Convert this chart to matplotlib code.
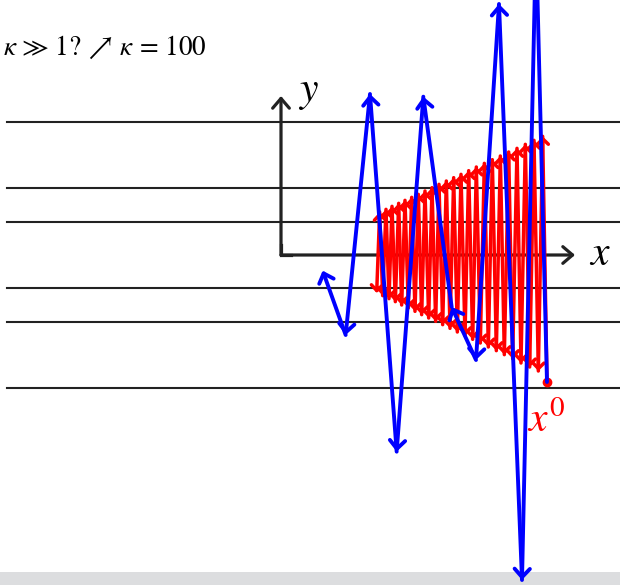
import matplotlib

matplotlib.use("Agg")
import matplotlib.pyplot as plt
from matplotlib.patches import FancyArrowPatch, Rectangle

plt.rcParams["mathtext.fontset"] = "stix"
plt.rcParams["font.family"] = "STIXGeneral"

# level lines y = const
levels = [4, 2, 1, -1, -2, -4]

# gradient descent iterates (red), starting at x0
red_x = [7.98, 7.85, 7.72, 7.59, 7.46, 7.33, 7.20, 7.08, 6.95, 6.83, 6.70,
         6.58, 6.46, 6.34, 6.22, 6.10, 5.98, 5.86, 5.75, 5.63, 5.52, 5.40,
         5.29, 5.18, 5.07, 4.96, 4.85, 4.74, 4.64, 4.53, 4.43, 4.32, 4.22,
         4.12, 4.02, 3.92, 3.82, 3.72, 3.62, 3.53, 3.43, 3.33, 3.24, 3.15,
         3.05, 2.96, 2.87]
red_y = [-3.81, 3.56, -3.48, 3.44, -3.36, 3.32, -3.24, 3.20, -3.11, 3.09,
         -2.99, 2.97, -2.87, 2.86, -2.76, 2.75, -2.64, 2.64, -2.53, 2.53,
         -2.42, 2.42, -2.31, 2.32, -2.20, 2.22, -2.09, 2.12, -1.99, 2.02,
         -1.89, 1.92, -1.79, 1.82, -1.69, 1.73, -1.59, 1.64, -1.50, 1.55,
         -1.40, 1.46, -1.31, 1.37, -1.22, 1.29, -1.14]

# iterates with too large a step (blue)
blue_x = [7.98, 7.65, 7.23, 6.54, 5.85, 5.12, 4.27, 3.47, 2.67, 1.94, 1.25]
blue_y = [-3.81, 9.50, -9.75, 7.53, -3.15, -1.56, 4.75, -5.90, 4.83, -2.40, -0.47]

fig = plt.figure(figsize=(6.2, 5.85), dpi=100)
ax = fig.add_axes([0, 0, 1, 1])
ax.set_xlim(-8.43, 10.17)
ax.set_ylim(-9.90, 7.65)
ax.axis("off")

ax.add_patch(Rectangle((-8.43, -9.90), 18.6, 0.39, color="#dcdddf", lw=0, zorder=0))

for lv in levels:
    ax.plot([-8.22, 10.17], [lv, lv], color="#222222", lw=1.5, zorder=1)


def arrow(p, q, color, lw, hl, hw, z):
    ax.add_patch(FancyArrowPatch(
        p, q, arrowstyle=f"->,head_length={hl},head_width={hw}",
        mutation_scale=10, color=color, lw=lw, shrinkA=0, shrinkB=0,
        capstyle="round", joinstyle="round", zorder=z))


# coordinate axes
ax.plot([0, 0, 0.3], [0.3, 0, 0], color="#222222", lw=2.3,
        solid_joinstyle="miter", zorder=2)
arrow((0, 0), (0, 4.77), "#222222", 2.3, 0.7, 0.6, 2)
arrow((0, 0), (8.82, 0), "#222222", 2.3, 0.7, 0.6, 2)
ax.text(0.81, 4.85, "$y$", fontsize=30, ha="center", va="center")
ax.text(9.57, 0.0, "$x$", fontsize=30, ha="center", va="center")

for i in range(len(red_x) - 1):
    arrow((red_x[i], red_y[i]), (red_x[i + 1], red_y[i + 1]),
          "#ff0000", 2.5, 0.4, 0.4, 3)
ax.plot(red_x[0], red_y[0], "o", color="#ff0000", ms=6, zorder=3)
ax.text(7.38, -5.0, "$x^0$", fontsize=30, color="#ff0000",
        ha="left", va="center", zorder=3)

for i in range(len(blue_x) - 1):
    arrow((blue_x[i], blue_y[i]), (blue_x[i + 1], blue_y[i + 1]),
          "#0000ff", 2.8, 0.6, 0.55, 5)

fig.text(0.005, 1 - 47 / 585,
         r"$\kappa\,\gg\,1?\,\nearrow\,\kappa\,=\,100$",
         fontsize=19.5, ha="left", va="center")

fig.savefig("out.png", dpi=100)
